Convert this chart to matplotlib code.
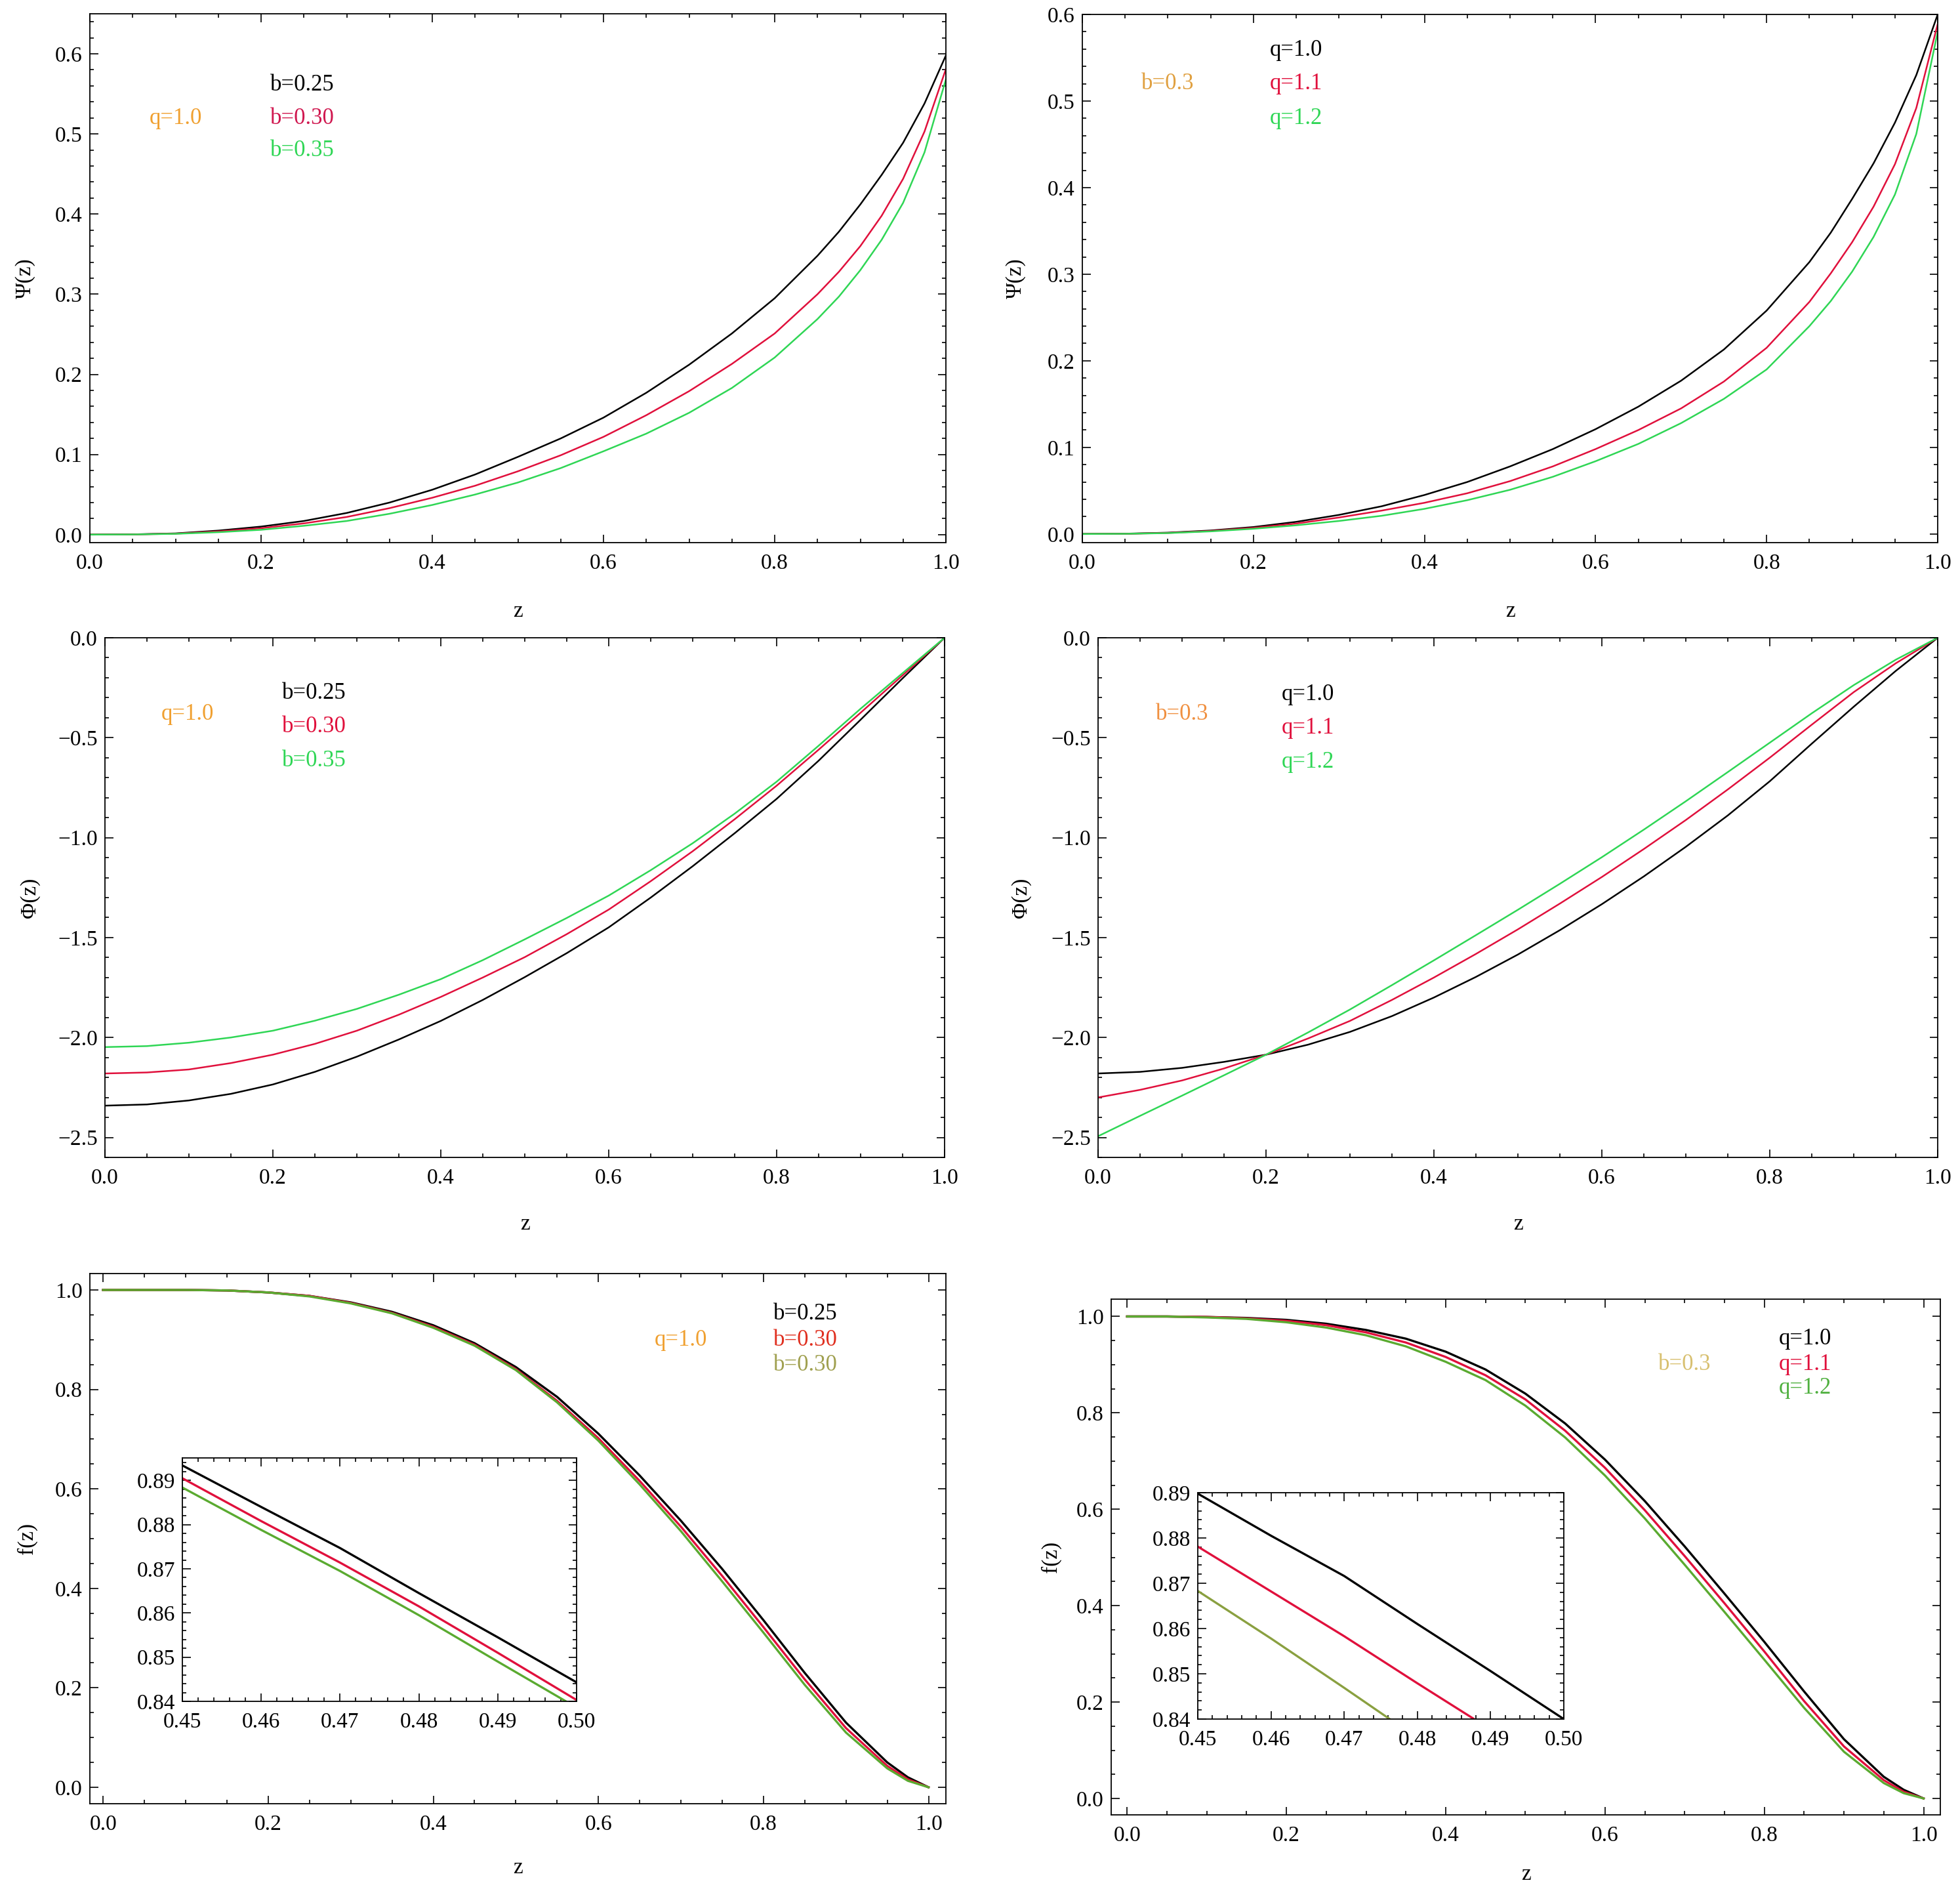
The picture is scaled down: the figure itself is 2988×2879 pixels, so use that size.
import numpy as np
import matplotlib
matplotlib.use("Agg")
import matplotlib.pyplot as plt
from matplotlib.ticker import MultipleLocator

plt.rcParams['font.family'] = ['Liberation Serif', 'DejaVu Serif']

# ---------------- data ----------------
z_psi = [0, 0.05, 0.1, 0.15, 0.2, 0.25, 0.3, 0.35, 0.4, 0.45, 0.5, 0.55, 0.6,
         0.65, 0.7, 0.75, 0.8, 0.85, 0.875, 0.9, 0.925, 0.95, 0.975, 1.0]

# Psi(z), q=1.0, b = 0.25 / 0.30 / 0.35
psi_b025 = [0, 0.0003, 0.0015, 0.005, 0.010, 0.017, 0.027, 0.040, 0.056, 0.075, 0.097, 0.120,
            0.146, 0.177, 0.212, 0.251, 0.295, 0.348, 0.378, 0.412, 0.449, 0.489, 0.538, 0.598]
psi_b030 = [0, 0.0002, 0.0012, 0.004, 0.008, 0.014, 0.022, 0.033, 0.046, 0.061, 0.079, 0.099,
            0.122, 0.149, 0.179, 0.213, 0.251, 0.300, 0.328, 0.360, 0.398, 0.444, 0.503, 0.581]
psi_b035 = [0, 0.0002, 0.0010, 0.003, 0.006, 0.011, 0.017, 0.026, 0.037, 0.050, 0.065, 0.083,
            0.104, 0.126, 0.152, 0.183, 0.221, 0.269, 0.297, 0.330, 0.368, 0.414, 0.477, 0.568]

# Psi(z), b=0.3, q = 1.0 / 1.1 / 1.2
psi_q10 = [0, 0.0003, 0.0015, 0.004, 0.008, 0.014, 0.022, 0.032, 0.045, 0.060, 0.078, 0.098,
           0.121, 0.147, 0.177, 0.213, 0.258, 0.314, 0.348, 0.387, 0.428, 0.475, 0.530, 0.600]
psi_q11 = [0, 0.0002, 0.0012, 0.0035, 0.007, 0.012, 0.019, 0.027, 0.036, 0.047, 0.061, 0.078,
           0.098, 0.120, 0.145, 0.176, 0.215, 0.268, 0.301, 0.337, 0.378, 0.427, 0.492, 0.589]
psi_q12 = [0, 0.0002, 0.0010, 0.003, 0.006, 0.010, 0.015, 0.021, 0.029, 0.039, 0.051, 0.066,
           0.084, 0.104, 0.128, 0.156, 0.190, 0.240, 0.269, 0.303, 0.343, 0.392, 0.462, 0.580]

z = [0, 0.05, 0.1, 0.15, 0.2, 0.25, 0.3, 0.35, 0.4, 0.45, 0.5, 0.55, 0.6,
     0.65, 0.7, 0.75, 0.8, 0.85, 0.9, 0.95, 1.0]

# Phi(z), q=1.0
phi_b025 = [-2.341, -2.335, -2.315, -2.282, -2.235, -2.172, -2.096, -2.010, -1.917, -1.812, -1.698,
            -1.578, -1.449, -1.300, -1.143, -0.978, -0.806, -0.615, -0.410, -0.203, 0.0]
phi_b030 = [-2.180, -2.175, -2.160, -2.128, -2.086, -2.032, -1.966, -1.886, -1.797, -1.700, -1.598,
            -1.483, -1.360, -1.218, -1.068, -0.908, -0.740, -0.560, -0.375, -0.188, 0.0]
phi_b035 = [-2.048, -2.043, -2.026, -2.000, -1.966, -1.916, -1.857, -1.786, -1.708, -1.613, -1.509,
            -1.402, -1.290, -1.163, -1.028, -0.880, -0.720, -0.540, -0.355, -0.177, 0.0]

# Phi(z), b=0.3
phi_q10 = [-2.180, -2.172, -2.152, -2.122, -2.086, -2.036, -1.972, -1.893, -1.800, -1.697, -1.585,
           -1.463, -1.333, -1.194, -1.046, -0.889, -0.718, -0.530, -0.345, -0.166, 0.0]
phi_q11 = [-2.300, -2.262, -2.215, -2.155, -2.086, -2.005, -1.917, -1.812, -1.700, -1.582, -1.459,
           -1.330, -1.197, -1.057, -0.912, -0.759, -0.600, -0.435, -0.272, -0.128, 0.0]
phi_q12 = [-2.494, -2.392, -2.291, -2.189, -2.086, -1.975, -1.860, -1.738, -1.614, -1.488, -1.361,
           -1.231, -1.098, -0.960, -0.818, -0.672, -0.525, -0.378, -0.237, -0.110, 0.0]

z_f = [0, 0.05, 0.1, 0.15, 0.2, 0.25, 0.3, 0.35, 0.4, 0.45, 0.5, 0.55, 0.6,
       0.65, 0.7, 0.75, 0.8, 0.85, 0.9, 0.95, 0.975, 1.0]

# f(z), q=1.0
f_b025 = [1.0, 1.0, 1.0, 0.999, 0.995, 0.988, 0.975, 0.956, 0.929, 0.893, 0.845,
          0.785, 0.711, 0.627, 0.536, 0.439, 0.336, 0.230, 0.130, 0.050, 0.020, 0.0]
f_b030 = [1.0, 1.0, 1.0, 0.999, 0.995, 0.988, 0.974, 0.954, 0.926, 0.890, 0.841,
          0.777, 0.702, 0.616, 0.524, 0.425, 0.322, 0.217, 0.119, 0.043, 0.016, 0.0]
f_b030b = [1.0, 1.0, 1.0, 0.999, 0.995, 0.987, 0.973, 0.953, 0.924, 0.888, 0.839,
           0.774, 0.697, 0.609, 0.515, 0.414, 0.311, 0.206, 0.110, 0.038, 0.013, 0.0]

# f(z), b=0.3
f_q10 = [1.0, 1.0, 0.999, 0.997, 0.993, 0.985, 0.972, 0.954, 0.927, 0.890, 0.840,
         0.778, 0.703, 0.617, 0.523, 0.425, 0.325, 0.222, 0.123, 0.045, 0.018, 0.0]
f_q11 = [1.0, 1.0, 0.999, 0.996, 0.991, 0.982, 0.967, 0.946, 0.916, 0.878, 0.828,
         0.763, 0.686, 0.598, 0.503, 0.405, 0.305, 0.202, 0.108, 0.038, 0.014, 0.0]
f_q12 = [1.0, 1.0, 0.998, 0.995, 0.988, 0.977, 0.961, 0.938, 0.906, 0.868, 0.815,
         0.749, 0.670, 0.581, 0.485, 0.387, 0.288, 0.188, 0.097, 0.032, 0.011, 0.0]

# insets, 0.45 <= z <= 0.50
z_in = [0.45, 0.46, 0.47, 0.48, 0.49, 0.50]
fin_b025 = [0.8934, 0.8840, 0.8747, 0.8645, 0.8545, 0.8443]
fin_b030 = [0.8905, 0.8808, 0.8714, 0.8615, 0.8510, 0.8403]
fin_b030b = [0.8884, 0.8788, 0.8695, 0.8595, 0.8490, 0.8386]
fin_q10 = [0.8898, 0.8805, 0.8716, 0.8610, 0.8506, 0.8400]
fin_q11 = [0.8781, 0.8682, 0.8583, 0.8479, 0.8377, 0.8275]
fin_q12 = [0.8683, 0.8578, 0.8469, 0.8358, 0.8250, 0.8140]

BLACK = 'black'
RED = '#e0103c'
GREEN = '#2fd655'
GREEN2 = '#5aaa30'
ORANGE = '#f0a030'

W, H = 2988, 2879
fig = plt.figure(figsize=(W / 100, H / 100), dpi=100)


def add(l, r, t, b):
    return fig.add_axes([l / W, 1 - b / H, (r - l) / W, (b - t) / H])


def frame(ax, xmaj, xmin, ymaj, ymin, size=24):
    ax.xaxis.set_major_locator(MultipleLocator(xmaj))
    ax.xaxis.set_minor_locator(MultipleLocator(xmin))
    ax.yaxis.set_major_locator(MultipleLocator(ymaj))
    ax.yaxis.set_minor_locator(MultipleLocator(ymin))
    ax.tick_params(which='both', direction='in', top=True, right=True, width=1.2)
    ax.tick_params(which='major', length=9, labelsize=size)
    ax.tick_params(which='minor', length=4.5)
    ax.tick_params(axis='x', pad=12)
    ax.tick_params(axis='y', pad=8)
    for s in ax.spines.values():
        s.set_linewidth(1.3)


def labels(ax, ylab, yx, xy):
    ax.set_ylabel(ylab, fontsize=24)
    ax.yaxis.set_label_coords(yx, 0.5)
    ax.set_xlabel('z', fontsize=24)
    ax.xaxis.set_label_coords(0.5, xy)


def notes(ax, left, lx, ly, right, rx, rys, cols):
    ax.text(lx, ly, left[0], color=left[1], fontsize=25, ha='center', va='center')
    for t, yy, c in zip(right, rys, cols):
        ax.text(rx, yy, t, color=c, fontsize=25, ha='center', va='center')


lw = 1.8

# ---- top left ----
ax = add(137, 1442, 21, 827)
ax.plot(z_psi, psi_b025, color=BLACK, lw=lw)
ax.plot(z_psi, psi_b030, color=RED, lw=lw)
ax.plot(z_psi, psi_b035, color=GREEN, lw=lw)
ax.set_xlim(0, 1)
ax.set_ylim(-0.01, 0.65)
frame(ax, 0.2, 0.05, 0.1, 0.02)
ax.xaxis.set_major_formatter('{x:.1f}')
ax.yaxis.set_major_formatter('{x:.1f}')
labels(ax, 'Ψ(z)', -0.064, -0.111)
notes(ax, ('q=1.0', ORANGE), 0.10, 0.519, ['b=0.25', 'b=0.30', 'b=0.35'], 0.248,
      [0.561, 0.519, 0.479], [BLACK, '#d01850', GREEN])

# ---- top right ----
ax = add(1650, 2954, 22, 827)
ax.plot(z_psi, psi_q10, color=BLACK, lw=lw)
ax.plot(z_psi, psi_q11, color=RED, lw=lw)
ax.plot(z_psi, psi_q12, color=GREEN, lw=lw)
ax.set_xlim(0, 1)
ax.set_ylim(-0.01, 0.6)
frame(ax, 0.2, 0.05, 0.1, 0.02)
ax.xaxis.set_major_formatter('{x:.1f}')
ax.yaxis.set_major_formatter('{x:.1f}')
labels(ax, 'Ψ(z)', -0.066, -0.111)
notes(ax, ('b=0.3', '#e0a040'), 0.10, 0.52, ['q=1.0', 'q=1.1', 'q=1.2'], 0.25,
      [0.559, 0.52, 0.48], [BLACK, RED, GREEN])

# ---- middle left ----
ax = add(160, 1440, 972, 1764)
ax.plot(z, phi_b025, color=BLACK, lw=lw)
ax.plot(z, phi_b030, color=RED, lw=lw)
ax.plot(z, phi_b035, color=GREEN, lw=lw)
ax.set_xlim(0, 1)
ax.set_ylim(-2.6, 0)
frame(ax, 0.2, 0.05, 0.5, 0.1)
ax.xaxis.set_major_formatter('{x:.1f}')
ax.yaxis.set_major_formatter('{x:.1f}')
labels(ax, 'Φ(z)', -0.077, -0.109)
notes(ax, ('q=1.0', ORANGE), 0.098, -0.383, ['b=0.25', 'b=0.30', 'b=0.35'], 0.249,
      [-0.276, -0.446, -0.616], [BLACK, RED, GREEN])

# ---- middle right ----
ax = add(1674, 2954, 972, 1764)
ax.plot(z, phi_q10, color=BLACK, lw=lw)
ax.plot(z, phi_q11, color=RED, lw=lw)
ax.plot(z, phi_q12, color=GREEN, lw=lw)
ax.set_xlim(0, 1)
ax.set_ylim(-2.6, 0)
frame(ax, 0.2, 0.05, 0.5, 0.1)
ax.xaxis.set_major_formatter('{x:.1f}')
ax.yaxis.set_major_formatter('{x:.1f}')
labels(ax, 'Φ(z)', -0.080, -0.109)
notes(ax, ('b=0.3', '#f09040'), 0.10, -0.383, ['q=1.0', 'q=1.1', 'q=1.2'], 0.25,
      [-0.283, -0.452, -0.622], [BLACK, RED, GREEN])

lw2 = 2.4

# ---- bottom left ----
ax = add(137, 1442, 1941, 2749)
ax.plot(z_f, f_b025, color=BLACK, lw=lw2)
ax.plot(z_f, f_b030, color=RED, lw=lw2)
ax.plot(z_f, f_b030b, color=GREEN2, lw=lw2)
ax.set_xlim(-0.016, 1.021)
ax.set_ylim(-0.033, 1.033)
frame(ax, 0.2, 0.05, 0.2, 0.05)
ax.xaxis.set_major_formatter('{x:.1f}')
ax.yaxis.set_major_formatter('{x:.1f}')
labels(ax, 'f(z)', -0.061, -0.102)
notes(ax, ('q=1.0', ORANGE), 0.70, 0.899, ['b=0.25', 'b=0.30', 'b=0.30'], 0.851,
      [0.952, 0.899, 0.849], [BLACK, '#e03020', '#a0a050'])

ins = add(278, 879, 2222, 2593)
ins.plot(z_in, fin_b025, color=BLACK, lw=lw2)
ins.plot(z_in, fin_b030, color=RED, lw=lw2)
ins.plot(z_in, fin_b030b, color=GREEN2, lw=lw2)
ins.set_xlim(0.45, 0.50)
ins.set_ylim(0.84, 0.8951)
frame(ins, 0.01, 0.002, 0.01, 0.002)
ins.xaxis.set_major_formatter('{x:.2f}')
ins.yaxis.set_major_formatter('{x:.2f}')

# ---- bottom right ----
ax = add(1694, 2958, 1980, 2766)
ax.plot(z_f, f_q10, color=BLACK, lw=lw2)
ax.plot(z_f, f_q11, color=RED, lw=lw2)
ax.plot(z_f, f_q12, color=GREEN2, lw=lw2)
ax.set_xlim(-0.020, 1.021)
ax.set_ylim(-0.034, 1.036)
frame(ax, 0.2, 0.05, 0.2, 0.05)
ax.xaxis.set_major_formatter('{x:.1f}')
ax.yaxis.set_major_formatter('{x:.1f}')
labels(ax, 'f(z)', -0.060, -0.0955)
notes(ax, ('b=0.3', '#d8c070'), 0.70, 0.901, ['q=1.0', 'q=1.1', 'q=1.2'], 0.851,
      [0.953, 0.901, 0.852], [BLACK, RED, '#50b040'])

ins = add(1826, 2384, 2275, 2620)
ins.plot(z_in, fin_q10, color=BLACK, lw=lw2)
ins.plot(z_in, fin_q11, color=RED, lw=lw2)
ins.plot(z_in, fin_q12, color='#8aa040', lw=lw2)
ins.set_xlim(0.45, 0.50)
ins.set_ylim(0.84, 0.89)
frame(ins, 0.01, 0.002, 0.01, 0.002)
ins.xaxis.set_major_formatter('{x:.2f}')
ins.yaxis.set_major_formatter('{x:.2f}')

fig.savefig('out.png', dpi=100, facecolor='white')
